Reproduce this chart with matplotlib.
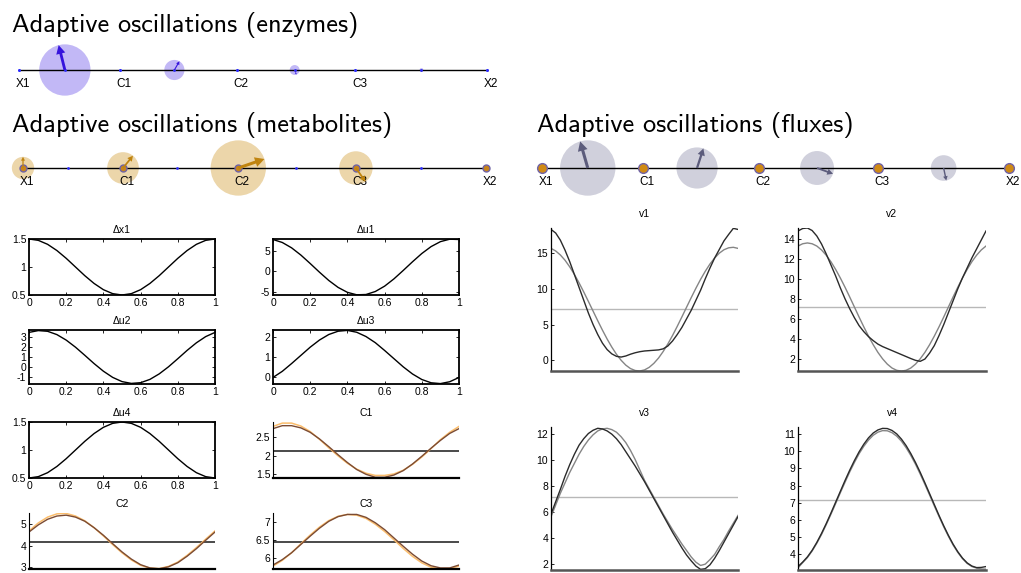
import numpy as np
import matplotlib.pyplot as plt
from matplotlib.patches import Circle, FancyArrow
from matplotlib.ticker import FormatStrFormatter

plt.rcParams['font.family'] = ['Liberation Sans', 'DejaVu Sans']
TITLE_FONT = ['cmss10', 'DejaVu Sans']

# ---- network: node names and layout along the pathway (X1 -> C1 -> C2 -> C3 -> X2)
nodes = ['X1', 'C1', 'C2', 'C3', 'X2']
node_layout = [0.0, 0.216, 0.465, 0.719, 1.0]
reaction_layout = [0.098, 0.332, 0.589, 0.860]

# oscillation amplitude and phase arrow angle (deg) per reaction / metabolite
enzyme_amp = [6.75, 2.65, 1.3, 0.5]
enzyme_angle = [104, 60, -70, -80]
metabolite_amp = [0.5, 0.71, 1.24, 0.75, 0.0]
metabolite_angle = [90, 51, 19, -55, 0]
flux_amp = [8.65, 6.43, 5.3, 4.0]
flux_angle = [106, 72, -20, -78]

# ---- enzyme and concentration time courses over one period
t = np.linspace(0, 1, 21)
dx1 = [1.5, 1.476, 1.405, 1.294, 1.155, 1.0, 0.845, 0.706, 0.595, 0.524, 0.5,
       0.524, 0.595, 0.706, 0.845, 1.0, 1.155, 1.294, 1.405, 1.476, 1.5]
du1 = [7.68, 6.96, 5.67, 3.92, 1.89, -0.21, -2.20, -3.87, -5.06, -5.65, -5.58,
       -4.86, -3.57, -1.82, 0.21, 2.31, 4.30, 5.97, 7.16, 7.75, 7.68]
du2 = [3.46, 3.64, 3.57, 3.24, 2.69, 1.98, 1.17, 0.34, -0.42, -1.04, -1.46,
       -1.64, -1.57, -1.24, -0.69, 0.02, 0.83, 1.66, 2.42, 3.04, 3.46]
du3 = [0.0, 0.30, 0.68, 1.08, 1.48, 1.83, 2.10, 2.26, 2.30, 2.21, 2.00,
       1.70, 1.32, 0.92, 0.52, 0.17, -0.10, -0.26, -0.30, -0.21, 0.0]
du4 = [0.5, 0.524, 0.595, 0.706, 0.845, 1.0, 1.155, 1.294, 1.405, 1.476, 1.5,
       1.476, 1.405, 1.294, 1.155, 1.0, 0.845, 0.706, 0.595, 0.524, 0.5]

c1_sim = [2.74, 2.82, 2.82, 2.76, 2.64, 2.46, 2.25, 2.03, 1.82, 1.63, 1.50,
          1.42, 1.42, 1.48, 1.60, 1.78, 1.99, 2.21, 2.42, 2.61, 2.74]
c1_approx = [2.80, 2.89, 2.89, 2.81, 2.66, 2.45, 2.22, 2.00, 1.80, 1.64, 1.53,
             1.47, 1.47, 1.51, 1.61, 1.77, 1.97, 2.20, 2.44, 2.64, 2.80]
c2_sim = [4.64, 4.97, 5.23, 5.38, 5.42, 5.33, 5.14, 4.84, 4.49, 4.10, 3.72,
          3.39, 3.13, 2.98, 2.94, 3.03, 3.22, 3.52, 3.87, 4.26, 4.64]
c2_approx = [4.69, 5.06, 5.33, 5.48, 5.50, 5.38, 5.16, 4.84, 4.46, 4.06, 3.68,
             3.35, 3.10, 2.97, 2.95, 3.05, 3.25, 3.56, 3.92, 4.31, 4.69]
c3_sim = [5.81, 5.96, 6.15, 6.38, 6.61, 6.83, 7.02, 7.15, 7.21, 7.21, 7.13,
          6.98, 6.79, 6.56, 6.33, 6.11, 5.92, 5.79, 5.73, 5.73, 5.81]
c3_approx = [5.78, 5.94, 6.15, 6.40, 6.64, 6.86, 7.04, 7.16, 7.21, 7.19, 7.10,
             6.94, 6.74, 6.51, 6.27, 6.05, 5.87, 5.75, 5.70, 5.71, 5.78]
c_ref = [2.12, 4.18, 6.45]

# ---- flux time courses (finer sampling)
tv = np.linspace(0, 1, 41)
v1_sim = [18.3, 17.8, 16.8, 15.4, 13.8, 12.0, 10.2, 8.4, 6.6, 5.0, 3.6,
          2.4, 1.5, 0.9, 0.55, 0.45, 0.6, 0.85, 1.05, 1.2, 1.3,
          1.35, 1.4, 1.45, 1.6, 2.0, 2.7, 3.6, 4.6, 5.8, 7.0,
          8.4, 9.8, 11.4, 12.9, 14.3, 15.5, 16.7, 17.6, 18.45, 18.3]
v1_approx = [15.65, 15.29, 14.73, 13.99, 13.07, 12.01, 10.83, 9.56, 8.23, 6.88, 5.53,
             4.22, 2.98, 1.85, 0.84, 0.00, -0.68, -1.16, -1.43, -1.50, -1.35,
             -0.99, -0.43, 0.31, 1.23, 2.29, 3.47, 4.74, 6.07, 7.42, 8.77,
             10.08, 11.32, 12.45, 13.46, 14.30, 14.98, 15.46, 15.73, 15.80, 15.65]
v2_sim = [14.8, 15.05, 15.1, 14.85, 14.3, 13.5, 12.5, 11.4, 10.3, 9.1, 8.0,
          7.0, 6.1, 5.3, 4.7, 4.2, 3.8, 3.45, 3.2, 3.0, 2.8,
          2.6, 2.4, 2.2, 2.0, 1.82, 1.72, 1.95, 2.55, 3.3, 4.3,
          5.4, 6.6, 7.8, 9.0, 10.1, 11.1, 12.1, 13.0, 13.9, 14.8]
v2_approx = [13.29, 13.52, 13.60, 13.52, 13.29, 12.90, 12.37, 11.72, 10.95, 10.09, 9.16,
             8.18, 7.17, 6.16, 5.18, 4.25, 3.39, 2.62, 1.97, 1.44, 1.05,
             0.82, 0.74, 0.82, 1.05, 1.44, 1.97, 2.62, 3.39, 4.25, 5.18,
             6.16, 7.17, 8.18, 9.16, 10.09, 10.95, 11.72, 12.37, 12.90, 13.29]
v3_sim = [5.8, 6.75, 7.7, 8.7, 9.6, 10.4, 11.1, 11.6, 12.0, 12.25, 12.4,
          12.35, 12.2, 11.95, 11.6, 11.15, 10.6, 10.05, 9.5, 8.9, 8.3,
          7.65, 7.0, 6.35, 5.7, 5.05, 4.4, 3.8, 3.2, 2.65, 2.2,
          1.8, 1.55, 1.6, 1.9, 2.4, 3.0, 3.65, 4.3, 4.95, 5.6]
v3_approx = [5.6, 6.5, 7.4, 8.2, 9.0, 9.7, 10.4, 11.0, 11.5, 11.9, 12.2,
             12.35, 12.4, 12.3, 12.1, 11.75, 11.3, 10.7, 10.0, 9.2, 8.4,
             7.75, 7.1, 6.45, 5.8, 5.2, 4.6, 4.05, 3.5, 3.0, 2.5,
             2.1, 1.85, 1.95, 2.3, 2.7, 3.3, 3.85, 4.5, 5.1, 5.7]
v4_sim = [3.30, 3.56, 3.86, 4.24, 4.70, 5.22, 5.79, 6.40, 7.03, 7.66, 8.29,
          8.89, 9.45, 9.96, 10.40, 10.77, 11.05, 11.23, 11.32, 11.31, 11.20,
          11.00, 10.70, 10.32, 9.86, 9.34, 8.77, 8.16, 7.53, 6.90, 6.27,
          5.67, 5.11, 4.60, 4.16, 3.79, 3.51, 3.33, 3.24, 3.25, 3.30]
v4_approx = [3.22, 3.53, 3.82, 4.20, 4.65, 5.16, 5.73, 6.33, 6.95, 7.58, 8.19,
             8.79, 9.34, 9.85, 10.28, 10.64, 10.92, 11.10, 11.19, 11.18, 11.07,
             10.87, 10.58, 10.20, 9.75, 9.24, 8.67, 8.07, 7.45, 6.82, 6.21,
             5.61, 5.06, 4.55, 4.12, 3.76, 3.48, 3.30, 3.21, 3.16, 3.15]
v_ref = 7.15

W, H = 1021, 573
fig = plt.figure(figsize=(W / 100, H / 100), dpi=100)


def px_axes(x0, y0, x1, y1):
    return fig.add_axes([x0 / W, 1 - y1 / H, (x1 - x0) / W, (y1 - y0) / H])


def title(x, y, s):
    fig.text(x / W, 1 - y / H, s, fontsize=19, family=TITLE_FONT, va='baseline')


def network(x0, x1, yline, where, amp, angle, px_per_unit, circ_col, arr_col,
            node_style, reaction_dots):
    half, pad = 34, 14
    span = x1 - x0
    ax = px_axes(x0 - pad, yline - half, x1 + pad, yline + half)
    ax.set_xlim(-pad / span, 1 + pad / span)
    ax.set_ylim(-half / span, half / span)
    ax.axis('off')
    ax.plot(node_layout, [0] * len(nodes), color='black', lw=1.0, zorder=3)
    centres = node_layout if where == 'nodes' else reaction_layout
    for xc, a, ang in zip(centres, amp, angle):
        r = a * px_per_unit / span
        if r <= 0:
            continue
        ax.add_patch(Circle((xc, 0), r, color=circ_col, lw=0, zorder=2))
        dx, dy = r * np.cos(np.radians(ang)), r * np.sin(np.radians(ang))
        ax.add_patch(FancyArrow(xc, 0, dx, dy, width=0.11 * r, head_width=0.36 * r,
                                head_length=0.34 * r, length_includes_head=True,
                                color=arr_col, lw=0, zorder=6))
    if reaction_dots:
        ax.plot(reaction_layout, [0] * 4, 'o', ms=2, color='#2a2aff', mec='none', zorder=4)
    ax.plot(node_layout, [0] * len(nodes), **node_style, zorder=5)
    for xn, name in zip(node_layout, nodes):
        ax.annotate(name, (xn, 0), xytext=(4, -14), textcoords='offset pixels',
                    ha='center', va='center', fontsize=8.5, zorder=4)
    return ax


# ---- network diagrams
title(12, 32, 'Adaptive oscillations (enzymes)')
network(19, 487, 70, 'reactions', enzyme_amp, enzyme_angle, 3.8,
        '#c2b8f6', '#3614dc',
        dict(marker='o', ls='none', ms=2.2, color='#2a2aff', mec='none'), True)

title(12, 132, 'Adaptive oscillations (metabolites)')
network(23, 486, 168, 'nodes', metabolite_amp, metabolite_angle, 22.3,
        '#ecd6aa', '#c0840f',
        dict(marker='o', ls='none', ms=5, color='#c8841a', mec='#6f63a6', mew=1.0), True)

title(537, 132, 'Adaptive oscillations (fluxes)')
network(542, 1009, 168, 'reactions', flux_amp, flux_angle, 3.2,
        '#d0d0dc', '#5c5c7c',
        dict(marker='o', ls='none', ms=7, color='#d08a14', mec='#6f63a6', mew=1.0), False)


# ---- enzyme / state time courses (MATLAB-style boxes)
def boxed(ax, y, name, ylim, yticks):
    ax.plot(t, y, color='black', lw=1.0)
    ax.set_xlim(0, 1)
    ax.set_ylim(*ylim)
    ax.set_xticks([0, 0.2, 0.4, 0.6, 0.8, 1])
    ax.set_yticks(yticks)
    ax.xaxis.set_major_formatter(FormatStrFormatter('%g'))
    ax.yaxis.set_major_formatter(FormatStrFormatter('%g'))
    for s in ax.spines.values():
        s.set_linewidth(1.3)
    ax.tick_params(direction='in', length=2.5, width=0.6, top=True, right=True,
                   labelsize=7.5, pad=2)
    ax.set_title(name, fontsize=7.5, pad=4)


def concentration(ax, sim, approx, ref, name, ylim, yticks):
    ax.axhline(ref, color='#3c3c3c', lw=1.3)
    ax.plot(t, approx, color='#fbbd6c', lw=1.1)
    ax.plot(t, sim, color='#7b4b33', lw=1.0)
    ax.set_xlim(0, 1)
    ax.set_ylim(*ylim)
    ax.set_xticks([])
    ax.set_yticks(yticks)
    ax.yaxis.set_major_formatter(FormatStrFormatter('%g'))
    ax.spines[['top', 'right']].set_visible(False)
    ax.spines['left'].set_linewidth(0.8)
    ax.spines['bottom'].set_linewidth(1.6)
    ax.tick_params(direction='in', length=2.5, width=0.6, labelsize=7.5, pad=2)
    ax.set_title(name, fontsize=7.5, pad=4)


cols = [(29, 215), (273, 459)]
rows = [(239, 295), (330, 384), (422, 478), (513, 569)]

boxed(px_axes(cols[0][0], rows[0][0], cols[0][1], rows[0][1]), dx1, '\u0394x1', (0.5, 1.5), [0.5, 1, 1.5])
boxed(px_axes(cols[1][0], rows[0][0], cols[1][1], rows[0][1]), du1, '\u0394u1', (-5.7, 7.8), [-5, 0, 5])
boxed(px_axes(cols[0][0], rows[1][0], cols[0][1], rows[1][1]), du2, '\u0394u2', (-1.7, 3.7), [-1, 0, 1, 2, 3])
boxed(px_axes(cols[1][0], rows[1][0], cols[1][1], rows[1][1]), du3, '\u0394u3', (-0.32, 2.32), [0, 1, 2])
boxed(px_axes(cols[0][0], rows[2][0], cols[0][1], rows[2][1]), du4, '\u0394u4', (0.5, 1.5), [0.5, 1, 1.5])
concentration(px_axes(cols[1][0], rows[2][0], cols[1][1], rows[2][1]), c1_sim, c1_approx, c_ref[0],
              'C1', (1.4, 2.92), [1.5, 2, 2.5])
concentration(px_axes(cols[0][0], rows[3][0], cols[0][1], rows[3][1]), c2_sim, c2_approx, c_ref[1],
              'C2', (2.93, 5.52), [3, 4, 5])
concentration(px_axes(cols[1][0], rows[3][0], cols[1][1], rows[3][1]), c3_sim, c3_approx, c_ref[2],
              'C3', (5.7, 7.25), [6, 6.5, 7])


# ---- flux time courses
def flux(ax, sim, approx, name, ylim, yticks):
    ax.axhline(v_ref, color='#b8b8b8', lw=1.0)
    ax.plot(tv, approx, color='#858585', lw=1.0)
    ax.plot(tv, sim, color='#2b2b2b', lw=1.0)
    ax.set_xlim(0, 1)
    ax.set_ylim(*ylim)
    ax.set_xticks([])
    ax.set_yticks(yticks)
    ax.spines[['top', 'right']].set_visible(False)
    ax.spines['left'].set_linewidth(0.9)
    ax.spines['bottom'].set_linewidth(1.8)
    ax.spines['bottom'].set_color('#555555')
    ax.tick_params(direction='in', length=2.5, width=0.6, labelsize=7.5, pad=2)
    ax.set_title(name, fontsize=7.5, pad=8)


flux(px_axes(551, 228, 738, 371), v1_sim, v1_approx, 'v1', (-1.5, 18.5), [0, 5, 10, 15])
flux(px_axes(798, 228, 986, 371), v2_sim, v2_approx, 'v2', (0.75, 15.1), [2, 4, 6, 8, 10, 12, 14])
flux(px_axes(551, 427, 738, 570), v3_sim, v3_approx, 'v3', (1.5, 12.5), [2, 4, 6, 8, 10, 12])
flux(px_axes(798, 427, 986, 570), v4_sim, v4_approx, 'v4', (3.1, 11.4), [4, 5, 6, 7, 8, 9, 10, 11])

fig.savefig('out.png', dpi=100)
